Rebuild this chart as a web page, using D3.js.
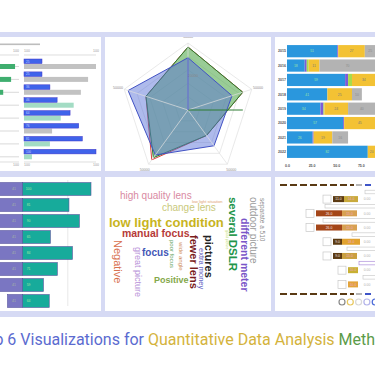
<!DOCTYPE html>
<html>
<head>
<meta charset="utf-8">
<script src="https://cdn.jsdelivr.net/npm/d3@7"></script>
<style>
  body { margin: 0; background: #fff; }
  svg { display: block; }
</style>
</head>
<body>
<div id="chart"></div>
<script>

// ---- panel 1: paired bars ----
var p1Rows = ["r1", "r2", "r3", "r4", "r5", "r6", "r7", "r8"];
var p1Blue = [25, 25, 36, 46, 64, 76, 81, 100];
var p1Gray = [100, 89, 79, 0, 0, 39, 0, 0];
var p1Mint = [0, 0, 0, 69, 51, 0, 36, 11];
var p1Green = [95, 90, 80, 60, 50, 40, 30, 20];

// ---- panel 2: radar ----
var radarAxes = ["Price", "Quality", "Support", "Design", "Speed"];
var radarRed = [0.94, 0.86, 0.47, 0.92, 0.66];
var radarGreen = [0.94, 0.86, 0.47, 0.88, 0.66];
var radarBlue = [0.78, 0.69, 0.66, 0.83, 0.94];
var radarLevels = [0.2, 0.4, 0.6, 0.8, 1];
var radarLabels = ["50000", "50000", "50000", "50000", "50000"];

// ---- panel 3: stacked bars ----
var p3Rows = ["2015", "2016", "2017", "2018", "2019", "2020", "2021", "2022"];
var p3Blue = [51, 18, 59, 41, 34, 57, 26, 82];
var p3Purple = [1, 2, 3, 0, 3, 1, 1, 0];
var p3Lime = [0, 2, 4, 0, 1, 0, 0, 0];
var p3Yellow = [27, 11, 34, 25, 24, 45, 19, 20];
var p3Gray = [25, 70, 0, 10, 40, 0, 16, 0];
var p3Ticks = [0, 25, 50, 75];

// ---- panel 4: two-part bars ----
var p4Rows = ["a", "b", "c", "d", "e", "f", "g", "h"];
var p4Start = [0, 0, 0, 0, 0, 0, 0, 28];
var p4Split = [41, 41, 41, 41, 41, 41, 41, 41];
var p4End = [100, 81, 90, 65, 84, 71, 59, 64];
var p4Grid = [80];

// ---- panel 5: word cloud ----
var cloudWords = ["high quality lens", "low light situation", "change lens", "low light condition",
  "manual focus", "Negative", "great picture", "focus", "poor focus", "wide angle", "Positive",
  "fewer lens", "pictures", "extra money", "several DSLR", "good picture", "different meter",
  "outdoor picture", "separate a 510"];
var cloudWeights = [20, 8, 20, 26, 21, 22, 18, 20, 12, 12, 18, 22, 22, 15, 23, 7, 21, 20, 13];

// ---- panel 6: timeline rows ----
var p6Rows = ["B", "C", "D", "E", "F", "G", "H"];
var p6Start = [43, 26, 26, 43, 43, 58, 58];
var p6Phase1 = [11, 26, 26, 9, 9, 0, 0];
var p6Phase2 = [14, 15, 15, 18, 15, 10, 10];
var p6Links = [85, 45, 43, 72, 67, 79, 83];

// ---------------------------------------------------------------

var W = 375, H = 377;
var font = "'Liberation Sans', Arial, sans-serif";

var svg = d3.select("#chart").append("svg")
    .attr("width", W)
    .attr("height", H);

var defs = svg.append("defs");

// lavender backdrop
svg.append("rect")
    .attr("x", 0).attr("y", 32)
    .attr("width", W).attr("height", 285)
    .attr("fill", "#d6daf4");

function panel(id, x, y, w, h) {
    defs.append("clipPath").attr("id", "clip-" + id)
        .append("rect").attr("x", x).attr("y", y).attr("width", w).attr("height", h);
    svg.append("rect")
        .attr("x", x).attr("y", y).attr("width", w).attr("height", h)
        .attr("fill", "#fff");
    return svg.append("g").attr("clip-path", "url(#clip-" + id + ")");
}

// ===== panel 1 =====
var g1 = panel("p1", 0, 37, 101, 134);
var x1 = d3.scaleLinear().domain([0, 100]).range([24, 96]);
var x1L = d3.scaleLinear().domain([0, 100]).range([-60, 19]);
var y1 = d3.scaleBand().domain(p1Rows).range([57.5, 160.7]);

g1.append("rect").attr("x", 0).attr("y", 43.5).attr("width", 40).attr("height", 1.6).attr("fill", "#bdbdbd");
[55, 162].forEach(function (yy) {
    g1.append("line").attr("x1", 0).attr("x2", x1L(100)).attr("y1", yy).attr("y2", yy)
        .attr("stroke", "#d0d0d0").attr("stroke-width", 0.7);
    g1.append("line").attr("x1", x1(0)).attr("x2", x1(100)).attr("y1", yy).attr("y2", yy)
        .attr("stroke", "#d0d0d0").attr("stroke-width", 0.7);
});
[[x1L(100) - 3, 52], [x1(0) + 3, 52], [x1(100), 52], [x1L(100) - 3, 166], [x1(0) + 3, 166], [x1(100), 166]].forEach(function (p) {
    g1.append("text").attr("x", p[0]).attr("y", p[1]).attr("text-anchor", "middle")
        .attr("font-family", font).attr("font-size", 3.5).attr("fill", "#999").text("100");
});

g1.selectAll(".row-line").data(p1Rows).enter().append("line")
    .attr("x1", 0).attr("x2", x1L(100))
    .attr("y1", function (d) { return y1(d) + 9; })
    .attr("y2", function (d) { return y1(d) + 9; })
    .attr("stroke", "#cfcfcf").attr("stroke-width", 0.8);

g1.selectAll(".green").data(p1Green).enter().append("rect")
    .attr("x", x1L(0))
    .attr("y", function (d, i) { return y1(p1Rows[i]) + 6.5; })
    .attr("width", function (d) { return x1L(d) - x1L(0); })
    .attr("height", 5)
    .attr("fill", "#3fae6f");

g1.selectAll(".lower").data(p1Rows).enter().append("rect")
    .attr("x", x1(0))
    .attr("y", function (d) { return y1(d) + 6.5; })
    .attr("width", function (d, i) { return x1(p1Gray[i] + p1Mint[i]) - x1(0); })
    .attr("height", 5)
    .attr("fill", function (d, i) { return p1Mint[i] > 0 ? "#a3dcc4" : "#c2c2c2"; });

g1.selectAll(".blue").data(p1Blue).enter().append("rect")
    .attr("x", x1(0))
    .attr("y", function (d, i) { return y1(p1Rows[i]) + 1.5; })
    .attr("width", function (d) { return x1(d) - x1(0); })
    .attr("height", 4.6)
    .attr("fill", "#3f63ea")
    .attr("stroke", "#4336c6").attr("stroke-width", 0.5);

g1.selectAll(".blabel").data(p1Blue).enter().append("text")
    .attr("x", x1(0) + 2)
    .attr("y", function (d, i) { return y1(p1Rows[i]) + 5; })
    .attr("font-family", font).attr("font-size", 3).attr("fill", "#c8d4ff")
    .text(function (d) { return d; });

// ===== panel 2 =====
var g2 = panel("p2", 105, 37, 166, 134);
var cx = 188, cy = 110;
var r2 = d3.scaleLinear().domain([0, 1]).range([0, 67]);
var ang = function (i) { return i * 2 * Math.PI / radarAxes.length; };
var pt = function (i, v) { return [cx + r2(v) * Math.sin(ang(i)), cy - r2(v) * Math.cos(ang(i))]; };
var radial = d3.lineRadial()
    .angle(function (d, i) { return ang(i); })
    .radius(function (d) { return r2(d); })
    .curve(d3.curveLinearClosed);

var rg = g2.append("g").attr("transform", "translate(" + cx + "," + cy + ")");
radarLevels.forEach(function (lv) {
    rg.append("path").attr("d", radial(radarAxes.map(function () { return lv; })))
        .attr("fill", "none").attr("stroke", "#e0e0e0").attr("stroke-width", 0.7);
});
radarAxes.forEach(function (a, i) {
    var p = pt(i, 1);
    g2.append("line").attr("x1", cx).attr("y1", cy).attr("x2", p[0]).attr("y2", p[1])
        .attr("stroke", "#e0e0e0").attr("stroke-width", 0.7);
    var q = pt(i, 1.1);
    g2.append("text").attr("x", q[0]).attr("y", q[1] + 1.5).attr("text-anchor", "middle")
        .attr("font-family", font).attr("font-size", 3.6).attr("fill", "#8a8a8a").text(radarLabels[i]);
});
g2.append("text").attr("x", pt(0, 0.5)[0] + 5).attr("y", pt(0, 0.5)[1])
    .attr("text-anchor", "middle").attr("font-family", font).attr("font-size", 3.6)
    .attr("fill", "#8a8a8a").text("20000");

rg.append("path").attr("d", radial(radarRed))
    .attr("fill", "none").attr("stroke", "#d8403c").attr("stroke-width", 1);
rg.append("path").attr("d", radial(radarGreen))
    .attr("fill", "rgba(85,170,80,0.6)").attr("stroke", "#2f7d32").attr("stroke-width", 1);
rg.append("path").attr("d", radial(radarBlue))
    .attr("fill", "rgba(85,110,215,0.48)").attr("stroke", "#4252c4").attr("stroke-width", 1);

var gTip = pt(1, radarGreen[1]);
g2.append("line").attr("x1", cx).attr("y1", cy).attr("x2", gTip[0]).attr("y2", cy)
    .attr("stroke", "#2f7d32").attr("stroke-width", 1);
var bTip = pt(0, radarBlue[0]);
g2.append("line").attr("x1", cx).attr("y1", cy).attr("x2", bTip[0]).attr("y2", bTip[1])
    .attr("stroke", "#4252c4").attr("stroke-width", 1);

// ===== panel 3 =====
var g3 = panel("p3", 275, 37, 100, 134);
var x3 = d3.scaleLinear().domain([0, 100]).range([287, 385.5]);
var y3 = d3.scaleBand().domain(p3Rows).range([44, 159]).paddingInner(0.15).paddingOuter(0.075);
var p3Keys = ["blue", "purple", "lime", "yellow", "gray"];
var p3Color = d3.scaleOrdinal().domain(p3Keys)
    .range(["#2a97dd", "#7d5cd6", "#a8dc4c", "#f3c234", "#b3b3b3"]);
var p3Table = p3Rows.map(function (r, i) {
    return { row: r, blue: p3Blue[i], purple: p3Purple[i], lime: p3Lime[i], yellow: p3Yellow[i], gray: p3Gray[i] };
});
var stack3 = d3.stack().keys(p3Keys)(p3Table);

var layer3 = g3.selectAll(".layer").data(stack3).enter().append("g")
    .attr("fill", function (d) { return p3Color(d.key); });
layer3.selectAll("rect").data(function (d) { return d; }).enter().append("rect")
    .attr("x", function (d) { return x3(d[0]); })
    .attr("y", function (d) { return y3(d.data.row); })
    .attr("width", function (d) { return x3(d[1]) - x3(d[0]); })
    .attr("height", y3.bandwidth());

stack3.forEach(function (layer) {
    var tc = layer.key === "blue" ? "#9fe3a6" : (layer.key === "yellow" ? "#7a7a7a" : "#8c8c8c");
    layer.forEach(function (d) {
        if (d[1] - d[0] < 8 || layer.key === "purple" || layer.key === "lime") return;
        g3.append("text")
            .attr("x", (x3(d[0]) + x3(Math.min(d[1], 90))) / 2)
            .attr("y", y3(d.data.row) + y3.bandwidth() / 2 + 1.2)
            .attr("text-anchor", "middle").attr("font-family", font).attr("font-size", 3.4)
            .attr("fill", tc).text(d[1] - d[0]);
    });
});

g3.selectAll(".rl").data(p3Rows).enter().append("text")
    .attr("x", 282).attr("y", function (d) { return y3(d) + y3.bandwidth() / 2 + 1.2; })
    .attr("text-anchor", "middle").attr("font-family", font).attr("font-size", 3.6)
    .attr("font-weight", "bold").attr("fill", "#555").text(function (d) { return d; });

g3.append("g").attr("transform", "translate(0,161)")
    .call(d3.axisBottom(x3).tickValues(p3Ticks).tickSize(0).tickFormat(function (d) { return d + ".0"; }))
    .call(function (a) {
        a.select(".domain").remove();
        a.selectAll("text").attr("font-family", font).attr("font-size", 3.6)
            .attr("font-weight", "bold").attr("fill", "#555");
    });

// ===== panel 4 =====
var g4 = panel("p4", 0, 177, 101, 134);
var x4 = d3.scaleLinear().domain([0, 100]).range([-25, 91]);
var y4 = d3.scaleBand().domain(p4Rows).range([181, 309]).paddingInner(0.19).paddingOuter(0.095);

g4.selectAll(".grid").data(p4Grid).enter().append("line")
    .attr("x1", function (d) { return x4(d); }).attr("x2", function (d) { return x4(d); })
    .attr("y1", 180).attr("y2", 306)
    .attr("stroke", "#e0e0e0").attr("stroke-width", 0.7);

g4.selectAll(".pur").data(p4Rows).enter().append("rect")
    .attr("x", function (d, i) { return x4(p4Start[i]); })
    .attr("y", function (d) { return y4(d); })
    .attr("width", function (d, i) { return x4(p4Split[i]) - x4(p4Start[i]); })
    .attr("height", y4.bandwidth())
    .attr("fill", "#7a76c2").attr("stroke", "#5a559e").attr("stroke-width", 0.6);

g4.selectAll(".teal").data(p4Rows).enter().append("rect")
    .attr("x", function (d, i) { return x4(p4Split[i]); })
    .attr("y", function (d) { return y4(d); })
    .attr("width", function (d, i) { return x4(p4End[i]) - x4(p4Split[i]); })
    .attr("height", y4.bandwidth())
    .attr("fill", "#17ab9b").attr("stroke", "#5a559e").attr("stroke-width", 0.6);

g4.selectAll(".l1").data(p4Rows).enter().append("text")
    .attr("x", 14).attr("y", function (d) { return y4(d) + y4.bandwidth() / 2 + 1.2; })
    .attr("text-anchor", "middle").attr("font-family", font).attr("font-size", 3.4)
    .attr("fill", "#a7b9a0").text(function (d, i) { return p4Split[i]; });
g4.selectAll(".l2").data(p4Rows).enter().append("text")
    .attr("x", x4(p4Split[0]) + 6).attr("y", function (d) { return y4(d) + y4.bandwidth() / 2 + 1.2; })
    .attr("text-anchor", "middle").attr("font-family", font).attr("font-size", 3.4)
    .attr("fill", "#a5e8a0").text(function (d, i) { return p4End[i]; });

// ===== panel 5 =====
var g5 = panel("p5", 105, 177, 166, 134);
var x5 = d3.scaleLinear().domain([0, 100]).range([105, 271]);
var y5 = d3.scaleLinear().domain([0, 100]).range([177, 311]);
var fs5 = d3.scaleLinear().domain([0, 30]).range([0, 15]);
// cloud layout (position in cloud units, rotation) and styling
var cloudX = [9.0, 52.4, 34.3, 2.4, 10.2, 7.8, 19.9, 22.3, 40.4, 45.8, 29.5, 53.6, 62.7, 58.4, 77.1, 73.5, 84.3, 89.2, 94.6];
var cloudY = [13.8, 18.7, 23.1, 33.6, 41.8, 47.0, 52.2, 56.7, 47.0, 48.5, 76.9, 43.3, 43.3, 53.0, 14.9, 39.6, 30.6, 14.9, 15.7];
var cloudRot = [0, 0, 0, 0, 0, 90, 90, 0, 90, 90, 0, 90, 90, 90, 90, 90, 90, 90, 90];
var cloudBold = [0, 0, 0, 1, 1, 0, 0, 1, 0, 0, 1, 1, 1, 0, 1, 0, 1, 0, 0];
var cloudColor = ["#d98aa2", "#e0a070", "#c9c97c", "#c8b41e", "#b63a38", "#d8714f", "#b892d8", "#4356b6",
  "#62a462", "#d09060", "#84a84a", "#7a1c1c", "#222222", "#6262c2", "#22954a", "#b8d862", "#7a56c8",
  "#9a9a9a", "#8a8a8a"];

g5.selectAll(".word").data(cloudWords).enter().append("text")
    .attr("transform", function (d, i) {
        return "translate(" + x5(cloudX[i]) + "," + y5(cloudY[i]) + ") rotate(" + cloudRot[i] + ")";
    })
    .attr("dy", "0.35em")
    .attr("font-family", font)
    .attr("font-size", function (d, i) { return fs5(cloudWeights[i]); })
    .attr("font-weight", function (d, i) { return cloudBold[i] ? "bold" : "normal"; })
    .attr("fill", function (d, i) { return cloudColor[i]; })
    .text(function (d) { return d; });

// ===== panel 6 =====
var g6 = panel("p6", 275, 177, 100, 134);
var x6 = d3.scaleLinear().domain([0, 100]).range([280, 380]);
var y6 = d3.scaleBand().domain(p6Rows).range([192, 291.5]);
var c6a = ["#5c3b12", "#a44619", "#a44619", "#5c3b12", "#5c3b12", "#5c3b12", "#5c3b12"];
var c6b = ["#c9aa3c", "#d8a152", "#d8a152", "#e1a22f", "#caa040", "#c8b032", "#e3a43a"];
var iconColors = ["#8a8a8a", "#e8c860", "#d8d8d8", "#b4b4ea", "#4a6ad8"];

[185, 294].forEach(function (yy) {
    g6.append("line").attr("x1", x6(0)).attr("x2", x6(74)).attr("y1", yy).attr("y2", yy)
        .attr("stroke", "#5a3a14").attr("stroke-width", 2).attr("stroke-dasharray", "7,3");
    g6.append("line").attr("x1", x6(76)).attr("x2", x6(82)).attr("y1", yy).attr("y2", yy)
        .attr("stroke", "#b8b8b8").attr("stroke-width", 2);
    g6.append("line").attr("x1", x6(85)).attr("x2", x6(91)).attr("y1", yy).attr("y2", yy)
        .attr("stroke", "#3f55c8").attr("stroke-width", 2);
});

g6.selectAll(".link").data(p6Links).enter().append("rect")
    .attr("x", function (d) { return x6(d); })
    .attr("y", function (d, i) { return (i === 0 ? 192 : y6(p6Rows[i - 1]) + y6.step()) - 1.8; })
    .attr("width", 60).attr("height", 3.6)
    .attr("fill", "#fff")
    .attr("stroke", function (d, i) { return i === 5 ? "#a27ed6" : "#c4c4c4"; })
    .attr("stroke-width", 0.6);

g6.selectAll(".sq").data(p6Rows).enter().append("rect")
    .attr("x", function (d, i) { return x6(p6Start[i]); })
    .attr("y", function (d) { return y6(d) + y6.bandwidth() / 2 - 4; })
    .attr("width", 8).attr("height", 8)
    .attr("fill", "#fff").attr("stroke", "#c8c8c8").attr("stroke-width", 0.7);

g6.selectAll(".ph1").data(p6Rows).enter().append("rect")
    .attr("x", function (d, i) { return x6(p6Start[i] + 10); })
    .attr("y", function (d) { return y6(d) + y6.bandwidth() / 2 - 3; })
    .attr("width", function (d, i) { return x6(p6Phase1[i]) - x6(0); })
    .attr("height", 6)
    .attr("fill", function (d, i) { return c6a[i]; });

g6.selectAll(".ph2").data(p6Rows).enter().append("rect")
    .attr("x", function (d, i) { return x6(p6Start[i] + 10 + p6Phase1[i]); })
    .attr("y", function (d) { return y6(d) + y6.bandwidth() / 2 - 3; })
    .attr("width", function (d, i) { return x6(p6Phase2[i]) - x6(0); })
    .attr("height", 6)
    .attr("fill", function (d, i) { return c6b[i]; });

p6Rows.forEach(function (r, i) {
    var ym = y6(r) + y6.bandwidth() / 2 + 1.2;
    if (p6Phase1[i] > 0) {
        g6.append("text").attr("x", x6(p6Start[i] + 10 + p6Phase1[i] / 2)).attr("y", ym)
            .attr("text-anchor", "middle").attr("font-family", font).attr("font-size", 3.4)
            .attr("fill", "#f4e4e4").text(p6Phase1[i] + ".0");
    }
    g6.append("text").attr("x", x6(p6Start[i] + 10 + p6Phase1[i] + p6Phase2[i] / 2)).attr("y", ym)
        .attr("text-anchor", "middle").attr("font-family", font).attr("font-size", 3.4)
        .attr("fill", "#f0a8c8").text(p6Phase2[i] + ".0");
    g6.append("text").attr("x", x6(87)).attr("y", ym)
        .attr("text-anchor", "middle").attr("font-family", font).attr("font-size", 3.4)
        .attr("fill", "#b0b0b0").text("0.00");
});

g6.selectAll(".icon").data(iconColors).enter().append("circle")
    .attr("cx", function (d, i) { return x6(62 + i * 8.3); })
    .attr("cy", 302)
    .attr("r", 3)
    .attr("fill", "#fff")
    .attr("stroke", function (d) { return d; })
    .attr("stroke-width", 1.2);

// ===== title =====
var title = svg.append("text")
    .attr("y", 345)
    .attr("font-family", "Roboto, sans-serif")
    .attr("font-size", 16);
title.append("tspan").attr("fill", "#5b6bd0").text("Top 6 Visualizations for ");
title.append("tspan").attr("fill", "#d4b33c").text("Quantitative Data Analysis ");
title.append("tspan").attr("fill", "#5b9b49").text("Methods");
var lead = title.select("tspan").node().getComputedTextLength();
title.attr("x", 148 - lead);

</script>
</body>
</html>
